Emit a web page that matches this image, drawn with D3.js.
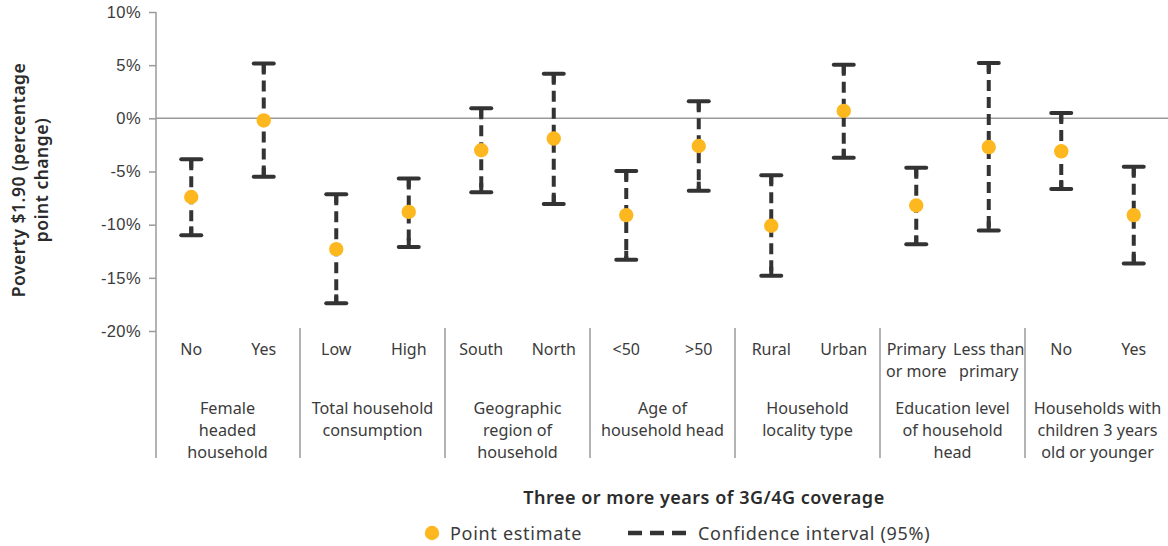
<!DOCTYPE html>
<html><head><meta charset="utf-8">
<script src="https://cdn.jsdelivr.net/npm/d3@7"></script>
<style>
html,body{margin:0;padding:0;background:#fff;}
svg{display:block;font-family:"Noto Sans","Open Sans",sans-serif;}
</style></head>
<body><svg id="c" width="1168" height="546"></svg>
<script>
const subLabels = [["No"],["Yes"],["Low"],["High"],["South"],["North"],["<50"],[">50"],["Rural"],["Urban"],["Primary","or more"],["Less than","primary"],["No"],["Yes"]];
const groupLabels = [["Female","headed","household"],["Total household","consumption"],["Geographic","region of","household"],["Age of","household head"],["Household","locality type"],["Education level","of household","head"],["Households with","children 3 years","old or younger"]];
const estimates = [-7.4,-0.2,-12.3,-8.8,-3.0,-1.9,-9.1,-2.6,-10.1,0.7,-8.2,-2.7,-3.1,-9.1];
const lower =     [-11.0,-5.5,-17.4,-12.1,-6.95,-8.05,-13.3,-6.8,-14.8,-3.7,-11.85,-10.55,-6.65,-13.65];
const upper =     [-3.85,5.15,-7.15,-5.65,0.95,4.2,-4.95,1.6,-5.35,5.05,-4.65,5.2,0.5,-4.55];
const yTicks = [10,5,0,-5,-10,-15,-20];

const svg = d3.select("#c");
const ids = subLabels.map((d,i)=>i);
const x = d3.scaleBand().domain(ids).range([155,1170]).padding(0);
const xc = i => x(i) + x.bandwidth()/2;
const y = d3.scaleLinear().domain([-20,10]).range([331,12]);
const txt = "#3b3b3b", grid = "#9a9a9a";

// y axis
const yAxis = d3.axisLeft(y).tickValues(yTicks).tickSize(7).tickFormat(d=>d+"%");
const ga = svg.append("g").attr("transform","translate(156,0)").call(yAxis);
ga.select(".domain").remove();
ga.selectAll(".tick line").attr("stroke",grid).attr("stroke-width",1.5);
ga.selectAll(".tick text").attr("fill",txt).attr("font-size",16.5).attr("letter-spacing",0.4).attr("x",-15);
svg.append("line").attr("x1",156).attr("x2",156).attr("y1",y(10)).attr("y2",458).attr("stroke",grid).attr("stroke-width",1.5);
// zero line
svg.append("line").attr("x1",156).attr("x2",1168).attr("y1",y(0)).attr("y2",y(0)).attr("stroke",grid).attr("stroke-width",1.5);

// group separators
for(let g=1; g<groupLabels.length; g++){
  const sx = x(g*2);
  svg.append("line").attr("x1",sx).attr("x2",sx).attr("y1",328).attr("y2",458).attr("stroke",grid).attr("stroke-width",1.5);
}

// sub labels
subLabels.forEach((lines,i)=>{
  const t = svg.append("text").attr("text-anchor","middle").attr("fill",txt).attr("font-size",16);
  lines.forEach((l,k)=>t.append("tspan").attr("x",xc(i)).attr("y",355+k*22).text(l));
});
// group labels
groupLabels.forEach((lines,g)=>{
  const cx = x(g*2) + x.bandwidth();
  const t = svg.append("text").attr("text-anchor","middle").attr("fill",txt).attr("font-size",16.2);
  lines.forEach((l,k)=>t.append("tspan").attr("x",cx).attr("y",414+k*22).text(l));
});

// error bars
const eb = svg.append("g");
ids.forEach(i=>{
  eb.append("line").attr("x1",xc(i)).attr("x2",xc(i)).attr("y1",y(upper[i])).attr("y2",y(lower[i]))
    .attr("stroke","#333").attr("stroke-width",4).attr("stroke-dasharray","11,6");
  [upper[i],lower[i]].forEach(v=>{
    eb.append("line").attr("x1",xc(i)-10).attr("x2",xc(i)+10).attr("y1",y(v)).attr("y2",y(v))
      .attr("stroke","#333").attr("stroke-width",4).attr("stroke-linecap","round");
  });
  eb.append("line").attr("x1",xc(i)).attr("x2",xc(i)).attr("y1",y(upper[i])).attr("y2",y(upper[i])+9).attr("stroke","#333").attr("stroke-width",4);
  eb.append("line").attr("x1",xc(i)).attr("x2",xc(i)).attr("y1",y(lower[i])).attr("y2",y(lower[i])-9).attr("stroke","#333").attr("stroke-width",4);
});
// points
svg.append("g").selectAll("circle").data(ids).join("circle")
  .attr("cx",i=>xc(i)).attr("cy",i=>y(estimates[i])).attr("r",7.2).attr("fill","#FDB71F");

// x title
svg.append("text").attr("x",704).attr("y",504).attr("text-anchor","middle").attr("fill","#2b2b2b")
  .attr("font-size",18).attr("letter-spacing",0.5).attr("font-weight",600).text("Three or more years of 3G/4G coverage");
// y title
const yt = svg.append("text").attr("transform","translate(0,180) rotate(-90)").attr("text-anchor","middle")
  .attr("fill","#2b2b2b").attr("font-size",17.5).attr("letter-spacing",0.5).attr("font-weight",600);
yt.append("tspan").attr("x",0).attr("y",25).text("Poverty $1.90 (percentage");
yt.append("tspan").attr("x",0).attr("y",48).text("point change)");

// legend
svg.append("circle").attr("cx",432).attr("cy",533).attr("r",7.2).attr("fill","#FDB71F");
svg.append("text").attr("x",450).attr("y",540).attr("fill",txt).attr("font-size",18).attr("letter-spacing",0.7).text("Point estimate");
svg.append("line").attr("x1",628).attr("x2",686).attr("y1",533).attr("y2",533).attr("stroke","#333").attr("stroke-width",4.5).attr("stroke-dasharray","14,8").attr("stroke-linecap","butt");
svg.append("text").attr("x",698).attr("y",540).attr("fill",txt).attr("font-size",18).attr("letter-spacing",0.7).text("Confidence interval (95%)");
</script></body></html>
